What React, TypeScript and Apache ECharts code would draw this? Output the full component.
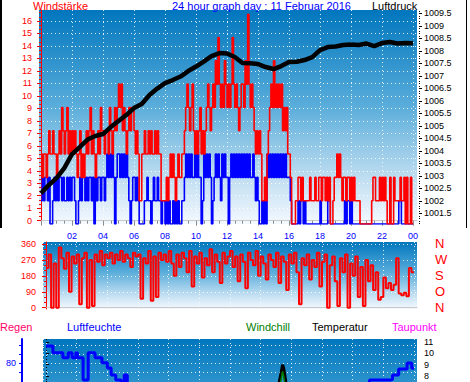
import React, { useEffect, useRef } from "react";
import * as echarts from "echarts";

// ---------- DATA ----------
const WIND_SAMPLE_MIN = 5; // wind / gust sampled every 5 minutes
const DIR_SAMPLE_MIN = 10; // wind direction sampled every 10 minutes
const HOUR_LABELS = [2, 4, 6, 8, 10, 12, 14, 16, 18, 20, 22, 24];
const WIND_LABELS = [0, 1, 2, 3, 4, 5, 6, 7, 8, 9, 10, 11, 12, 13, 14, 15, 16];
const PRESSURE_LABELS = [1001.5, 1002, 1002.5, 1003, 1003.5, 1004, 1004.5, 1005, 1005.5, 1006, 1006.5, 1007, 1007.5, 1008, 1008.5, 1009, 1009.5];
const DIR_LABELS = [0, 90, 180, 270, 360];
const DIR_NAMES = ["N", "O", "S", "W", "N"];
const TEMP_LABELS = [8, 9, 10, 11];
const HUM_LABELS = [80];
const HUM_TICKS = [75, 80, 85, 90];

// wind speed (blue) and gusts (red), in sensor steps (1 step = 1.87 on the left scale)
const windSteps = [
  1, 2, 1, 2, 2, 1, 2, 0, 0, 1, 2, 1, // 00
  2, 1, 2, 2, 1, 2, 1, 1, 2, 1, 2, 1, // 01
  2, 2, 1, 0, 0, 1, 2, 1, 2, 2, 1, 2, // 02
  1, 2, 2, 1, 2, 0, 2, 1, 2, 2, 1, 2, // 03
  2, 1, 2, 3, 2, 3, 2, 3, 2, 0, 2, 3, // 04
  3, 2, 3, 2, 3, 2, 3, 2, 1, 0, 1, 2, // 05
  2, 1, 2, 1, 0, 0, 0, 0, 1, 1, 2, 1, // 06
  1, 0, 1, 2, 1, 1, 2, 1, 1, 0, 1, 1, // 07
  0, 1, 0, 1, 0, 0, 1, 0, 1, 0, 1, 0, // 08
  0, 1, 1, 2, 3, 2, 3, 2, 3, 2, 2, 3, // 09
  2, 3, 2, 2, 0, 1, 3, 2, 3, 2, 3, 2, // 10
  0, 1, 2, 3, 2, 3, 2, 1, 3, 2, 3, 2, // 11
  2, 0, 2, 3, 2, 3, 2, 3, 2, 3, 2, 3, // 12
  2, 3, 2, 3, 2, 3, 2, 2, 3, 2, 1, 2, // 13
  1, 0, 0, 1, 0, 1, 0, 3, 2, 3, 2, 3, // 14
  2, 3, 2, 3, 2, 3, 2, 3, 2, 3, 2, 2, // 15
  2, 1, 0, 0, 0, 0, 0, 1, 0, 1, 1, 0, // 16
  1, 0, 0, 0, 0, 0, 0, 0, 0, 0, 0, 0, // 17
  1, 0, 0, 0, 0, 0, 1, 1, 0, 0, 0, 0, // 18
  0, 0, 0, 0, 0, 0, 0, 1, 0, 1, 1, 0, // 19
  1, 0, 0, 0, 0, 0, 0, 0, 0, 0, 0, 0, // 20
  0, 0, 0, 0, 0, 0, 0, 0, 0, 0, 0, 0, // 21
  0, 0, 0, 0, 0, 0, 0, 0, 0, 0, 0, 0, // 22
  0, 1, 1, 0, 0, 0, 0, 0, 0, 0, 0, 0, // 23
  0,
];
const gustSteps = [
  3, 2, 3, 3, 2, 3, 4, 3, 3, 4, 3, 3, // 00
  2, 3, 4, 3, 5, 4, 3, 4, 5, 3, 4, 3, // 01
  4, 3, 4, 3, 2, 3, 4, 2, 3, 2, 3, 4, // 02
  3, 4, 5, 3, 4, 3, 2, 3, 4, 3, 5, 4, // 03
  4, 3, 4, 4, 3, 5, 4, 3, 4, 5, 4, 5, // 04
  6, 5, 6, 4, 5, 4, 3, 4, 5, 4, 5, 5, // 05
  4, 3, 4, 3, 1, 1, 3, 3, 4, 3, 3, 4, // 06
  3, 4, 3, 3, 4, 3, 4, 3, 3, 1, 1, 1, // 07
  1, 2, 1, 2, 3, 2, 3, 2, 1, 2, 3, 2, // 08
  2, 3, 3, 4, 5, 6, 5, 4, 5, 6, 4, 3, // 09
  4, 3, 4, 5, 3, 4, 3, 4, 5, 6, 5, 4, // 10
  5, 6, 5, 7, 6, 8, 6, 5, 6, 5, 7, 6, // 11
  5, 6, 5, 6, 8, 6, 5, 6, 5, 4, 5, 6, // 12
  6, 5, 7, 6, 9, 6, 5, 6, 5, 4, 3, 4, // 13
  3, 4, 3, 1, 1, 2, 1, 3, 4, 5, 6, 5, // 14
  7, 5, 6, 5, 6, 5, 6, 4, 5, 4, 5, 3, // 15
  3, 2, 0, 0, 0, 1, 1, 2, 2, 1, 2, 1, // 16
  1, 1, 1, 1, 2, 1, 1, 1, 2, 1, 1, 2, // 17
  2, 1, 2, 2, 1, 2, 1, 2, 0, 0, 1, 2, // 18
  2, 3, 2, 3, 2, 1, 2, 2, 1, 2, 2, 1, // 19
  2, 1, 2, 1, 1, 1, 1, 0, 0, 0, 0, 0, // 20
  0, 0, 0, 0, 1, 2, 2, 1, 1, 1, 2, 1, // 21
  2, 1, 2, 1, 0, 0, 2, 0, 0, 2, 1, 1, // 22
  1, 1, 2, 1, 1, 2, 0, 2, 0, 0, 2, 0, // 23
  0,
];
// air pressure every 30 minutes (hPa)
const pressureHpa = [
  1002.3, 1002.63, 1002.91, 1003.31, 1003.87, 1004.15, 1004.45, 1004.59, 1004.67, 1004.95,
  1005.19, 1005.43, 1005.71, 1005.87, 1006.23, 1006.49, 1006.71, 1006.83, 1006.97, 1007.19,
  1007.37, 1007.57, 1007.79, 1007.91, 1007.89, 1007.75, 1007.51, 1007.5, 1007.47, 1007.35,
  1007.27, 1007.39, 1007.55, 1007.56, 1007.63, 1007.75, 1008.03, 1008.15, 1008.17, 1008.23,
  1008.25, 1008.23, 1008.29, 1008.19, 1008.31, 1008.35, 1008.29, 1008.31, 1008.3,
];
// wind direction (degrees) every 10 minutes
const windDirDeg = [
  225, 300, 0, 250, 0, 340, // 00
  280, 220, 310, 90, 290, 250, // 01
  300, 20, 280, 310, 0, 270, // 02
  10, 300, 260, 320, 240, 300, // 03
  280, 310, 250, 300, 270, 320, // 04
  260, 300, 280, 230, 310, 290, // 05
  300, 50, 280, 250, 320, 40, // 06
  290, 60, 310, 270, 300, 260, // 07
  320, 250, 180, 300, 230, 310, // 08
  280, 200, 320, 120, 290, 250, // 09
  310, 170, 280, 240, 330, 200, // 10
  300, 260, 140, 310, 250, 290, // 11
  320, 230, 290, 150, 300, 260, // 12
  110, 310, 270, 240, 320, 180, // 13
  290, 250, 160, 300, 270, 230, // 14
  310, 140, 290, 260, 100, 300, // 15
  250, 310, 200, 20, 280, 240, // 16
  300, 160, 270, 230, 310, 120, // 17
  260, 300, 0, 240, 290, 150, // 18
  10, 280, 200, 300, 0, 250, // 19
  180, 290, 60, 230, 10, 270, // 20
  150, 240, 100, 200, 45, 60, // 21
  170, 110, 140, 100, 130, 280, // 22
  80, 70, 85, 65, 225, 200, // 23
  200,
];
// humidity (%), change points [hour, value]
const humHours = [0, 0.45, 1.1, 1.45, 1.7, 1.95, 2.05, 2.42, 2.75, 3.2, 3.65, 4.0, 4.25, 4.55, 4.9, 5.1, 5.3, 6, 8, 10, 12, 14, 16, 18, 20, 20.6, 21.1, 22.45, 22.6, 23.0, 23.55, 23.85, 24];
const humPct = [89.5, 85.8, 83.1, 85.8, 83.1, 85.8, 83.1, 71.1, 85.8, 83.1, 80.4, 77.6, 73.8, 71.1, 69, 73.8, 68, 65, 62, 58, 55, 53, 54, 58, 63, 66, 71.1, 71.3, 73.8, 77.0, 80.3, 77.4, 77.4];
// temperature and windchill (°C)
const tempHours = [0, 3, 6, 8, 10, 12, 14, 15, 15.2, 15.35, 15.43, 15.5, 15.66, 16, 18, 20, 22, 24];
const tempC = [3.5, 3.2, 3.0, 3.8, 5.0, 6.0, 6.6, 7.0, 7.4, 8.4, 9.0, 8.7, 7.3, 6.8, 6.0, 5.2, 4.8, 4.5];
const chillC = [2.0, 1.8, 1.6, 2.4, 3.5, 4.5, 5.2, 5.8, 6.8, 7.8, 8.4, 8.0, 6.5, 5.6, 4.6, 3.8, 3.4, 3.1];

// ---------- HELPERS ----------
const FONT = "'Liberation Sans', Arial, Helvetica, sans-serif";
const dotted = { color: "rgba(255,255,255,0.85)", width: 1, type: [1, 3] as number[] };
const pad2 = (v: number) => (v % 24 < 10 ? "0" : "") + String(v % 24);

function panelGradient() {
  return new echarts.graphic.LinearGradient(0, 0, 0, 1, [
    { offset: 0, color: "#0076be" },
    { offset: 0.45, color: "#5aaddb" },
    { offset: 0.8, color: "#c4e0f2" },
    { offset: 1, color: "#f4f9ff" },
  ]);
}
function topGradient() {
  return new echarts.graphic.LinearGradient(0, 0, 0, 1, [
    { offset: 0, color: "#0076be" },
    { offset: 1, color: "#2b93cd" },
  ]);
}

function text(x: number, y: number, t: string, color: string, size = 11, align = "left") {
  return {
    type: "text",
    x,
    y,
    silent: true,
    style: { text: t, fill: color, fontSize: size, fontFamily: FONT, textAlign: align, textVerticalAlign: "middle" },
  };
}

export default function App() {
  const ref = useRef<HTMLDivElement>(null);
  useEffect(() => {
    document.body.style.margin = "0";
    const chart = echarts.init(ref.current!, undefined, { renderer: "svg" });

    const px1 = 15.5; // px per hour panel 1
    const px2 = 15.33; // px per hour panels 2, 3

    const windData = windSteps.map((v, i) => [(i * WIND_SAMPLE_MIN) / 60, v]);
    const gustData = gustSteps.map((v, i) => [(i * WIND_SAMPLE_MIN) / 60, v]);
    const pressData = pressureHpa.map((v, i) => [i * 0.5, v]);
    const dirData = windDirDeg.map((v, i) => [(i * DIR_SAMPLE_MIN) / 60, v]);
    const humData = humHours.map((h, i) => [h, humPct[i]]);
    const tempData = tempHours.map((h, i) => [h, tempC[i]]);
    const chillData = tempHours.map((h, i) => [h, chillC[i]]);

    const greyAxisLine = { show: true, lineStyle: { color: "#c8c8c8", width: 1 } };

    const option: any = {
      animation: false,
      backgroundColor: "#ffffff",
      textStyle: { fontFamily: FONT },
      grid: [
        { left: 39, top: 10, width: 378, height: 214, show: true, borderWidth: 0, backgroundColor: panelGradient() },
        { left: 43, top: 242, width: 374, height: 67, show: true, borderWidth: 0, backgroundColor: panelGradient() },
        { left: 43, top: 339, width: 374, height: 43, show: true, borderWidth: 0, backgroundColor: topGradient() },
      ],
      xAxis: [
        {
          gridIndex: 0, type: "value", min: -2 / px1, max: 24 + 4 / px1, minInterval: 2, maxInterval: 2,
          axisLine: greyAxisLine,
          axisTick: { show: true, customValues: [0, ...HOUR_LABELS], length: 5, lineStyle: { color: "#8c8c8c" } },
          minorTick: { show: true, splitNumber: 4, length: 3, lineStyle: { color: "#8c8c8c" } },
          axisLabel: { customValues: HOUR_LABELS, formatter: (v: number) => pad2(v), color: "#0000ff", fontSize: 9, margin: 7, fontFamily: FONT },
          splitLine: { show: true, lineStyle: dotted },
        },
        {
          gridIndex: 1, type: "value", min: -3 / px2, max: 24 + 3 / px2, minInterval: 2, maxInterval: 2,
          axisLine: greyAxisLine,
          axisTick: { show: false },
          axisLabel: { show: false },
          splitLine: { show: true, lineStyle: dotted },
        },
        {
          gridIndex: 2, type: "value", min: -3 / px2, max: 24 + 3 / px2, minInterval: 2, maxInterval: 2,
          axisLine: { show: false },
          axisTick: { show: false },
          axisLabel: { show: false },
          splitLine: { show: true, lineStyle: dotted },
        },
      ],
      yAxis: [
        {
          gridIndex: 0, type: "value", position: "left", min: -0.264, max: 16.88, minInterval: 1, maxInterval: 1,
          axisLine: { show: true, lineStyle: { color: "#ff0000", width: 1 } },
          axisTick: { show: true, customValues: WIND_LABELS, length: 4, lineStyle: { color: "#ff0000" } },
          minorTick: { show: true, splitNumber: 3, length: 2, lineStyle: { color: "#ff0000" } },
          axisLabel: { customValues: WIND_LABELS, color: "#ff0000", fontSize: 9, margin: 7, fontFamily: FONT },
          splitLine: { show: true, lineStyle: dotted },
        },
        {
          gridIndex: 0, type: "value", position: "right", offset: 2, min: 1001.072, max: 1009.632, minInterval: 0.5, maxInterval: 0.5,
          axisLine: { show: false },
          axisTick: { show: true, customValues: PRESSURE_LABELS, length: 3, lineStyle: { color: "#000" } },
          minorTick: { show: true, splitNumber: 5, length: 1, lineStyle: { color: "#000" } },
          axisLabel: { customValues: PRESSURE_LABELS, color: "#000", fontSize: 9, margin: 5, fontFamily: FONT, formatter: (v: number) => String(v) },
          splitLine: { show: false },
        },
        { gridIndex: 0, type: "value", min: 0, max: 9.18, show: false },
        {
          gridIndex: 1, type: "value", position: "left", min: -7.3, max: 371.25, minInterval: 90, maxInterval: 90,
          axisLine: { show: true, lineStyle: { color: "#ff0000", width: 1 } },
          axisTick: { show: true, customValues: DIR_LABELS, length: 4, lineStyle: { color: "#ff0000" } },
          minorTick: { show: true, splitNumber: 3, length: 2, lineStyle: { color: "#ff0000" } },
          axisLabel: { customValues: DIR_LABELS, color: "#ff0000", fontSize: 9, margin: 7, fontFamily: FONT },
          splitLine: { show: true, lineStyle: dotted },
        },
        {
          gridIndex: 1, type: "value", position: "right", min: -7.3, max: 371.25,
          axisLine: { show: false }, axisTick: { show: false }, splitLine: { show: false },
          axisLabel: {
            customValues: DIR_LABELS, color: "#ff0000", fontSize: 13, margin: 18, fontFamily: FONT,
            formatter: (v: number) => DIR_NAMES[DIR_LABELS.indexOf(v)] ?? "",
          },
        },
        {
          gridIndex: 2, type: "value", position: "right", offset: 2, min: 11.265 - 43 / 11.33, max: 11.265, minInterval: 1, maxInterval: 1,
          axisLine: { show: false },
          axisTick: { show: true, customValues: TEMP_LABELS, length: 3, lineStyle: { color: "#000" } },
          minorTick: { show: true, splitNumber: 4, length: 1, lineStyle: { color: "#000" } },
          axisLabel: { customValues: TEMP_LABELS, color: "#000", fontSize: 9, margin: 5, fontFamily: FONT },
          splitLine: { show: false },
        },
        {
          gridIndex: 2, type: "value", position: "left", offset: 21, min: 93.24 - 43 / 1.85, max: 93.24, minInterval: 10, maxInterval: 10,
          axisLine: { show: true, lineStyle: { color: "#0000ff", width: 2 } },
          axisTick: { show: true, customValues: HUM_TICKS, length: 3, lineStyle: { color: "#0000ff" } },
          axisLabel: { customValues: HUM_LABELS, color: "#0000ff", fontSize: 9, margin: 6, fontFamily: FONT },
          splitLine: { show: true, lineStyle: dotted },
        },
      ],
      series: [
        { type: "line", name: "Wind", xAxisIndex: 0, yAxisIndex: 2, data: windData, step: "end", showSymbol: false, lineStyle: { color: "#0000ff", width: 1.6 }, z: 2 },
        { type: "line", name: "Böen", xAxisIndex: 0, yAxisIndex: 2, data: gustData, step: "end", showSymbol: false, lineStyle: { color: "#ff0000", width: 1.6 }, z: 3 },
        { type: "line", name: "Luftdruck", xAxisIndex: 0, yAxisIndex: 1, data: pressData, showSymbol: false, lineStyle: { color: "#000000", width: 4.5 }, z: 4 },
        { type: "line", name: "Windrichtung", xAxisIndex: 1, yAxisIndex: 3, data: dirData, step: "end", showSymbol: false, lineStyle: { color: "#ff0000", width: 2 }, z: 3 },
        { type: "line", name: "Luftfeuchte", xAxisIndex: 2, yAxisIndex: 6, data: humData, step: "end", showSymbol: false, lineStyle: { color: "#0000ff", width: 3 }, z: 3 },
        { type: "line", name: "Temperatur", xAxisIndex: 2, yAxisIndex: 5, data: tempData, showSymbol: false, lineStyle: { color: "#000000", width: 3 }, z: 4 },
        { type: "line", name: "Windchill", xAxisIndex: 2, yAxisIndex: 5, data: chillData, showSymbol: false, lineStyle: { color: "#008000", width: 1.5 }, z: 5 },
      ],
      graphic: [
        { type: "rect", shape: { x: 0, y: 0, width: 2, height: 228 }, style: { fill: "#000" }, silent: true },
        { type: "rect", shape: { x: 466, y: 0, width: 1, height: 228 }, style: { fill: "#000" }, silent: true },
        text(33, 6, "Windstärke", "#ff0000"),
        text(172, 6, "24 hour graph day : 11 Februar 2016", "#0000ff"),
        text(372, 6, "Luftdruck", "#000000"),
        text(0, 327, "Regen", "#ff0066"),
        text(67, 327, "Luftfeuchte", "#0000ff"),
        text(246, 327, "Windchill", "#008000"),
        text(312, 327, "Temperatur", "#000000"),
        text(392, 327, "Taupunkt", "#ff00ff"),
      ],
    };
    chart.setOption(option);
    return () => chart.dispose();
  }, []);
  return <div ref={ref} style={{ width: 470, height: 382 }} />;
}
